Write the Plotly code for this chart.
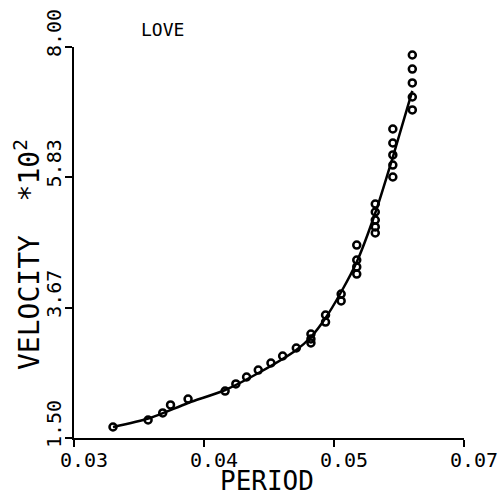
import plotly.graph_objects as go

# ---- data ----
obs_period = [0.0340, 0.0376, 0.0391, 0.0399, 0.0417, 0.0455, 0.0466, 0.0477, 0.0489,
              0.0502, 0.0514, 0.0528,
              0.0543, 0.0543, 0.0543,
              0.0558, 0.0558,
              0.0574, 0.0574,
              0.0590, 0.0590, 0.0590, 0.0590,
              0.0609, 0.0609, 0.0609, 0.0609, 0.0609,
              0.0627, 0.0627, 0.0627, 0.0627, 0.0627,
              0.0647, 0.0647, 0.0647, 0.0647, 0.0647]
obs_velocity = [1.683, 1.799, 1.916, 2.049, 2.148, 2.281, 2.398, 2.514, 2.630,
                2.747, 2.863, 2.996,
                3.229, 3.146, 3.080,
                3.545, 3.428,
                3.894, 3.778,
                4.708, 4.459, 4.343, 4.226,
                5.390, 5.257, 5.124, 5.008, 4.908,
                6.637, 6.404, 6.205, 6.038, 5.839,
                7.867, 7.634, 7.402, 7.169, 6.953]

fit_period = [0.0340, 0.0378, 0.0417, 0.0455, 0.0491, 0.0528, 0.0543, 0.0558,
              0.0574, 0.0590, 0.0609, 0.0627, 0.0647]
fit_velocity = [1.683, 1.832, 2.082, 2.298, 2.597, 2.963, 3.179, 3.495,
                3.927, 4.426, 5.240, 6.171, 7.269]

x_tick_vals = [0.03, 0.04333333, 0.05666667, 0.07]
x_tick_labels = ["0.03", "0.04", "0.05", "0.07"]
y_tick_vals = [1.5, 3.6666667, 5.8333333, 8.0]
y_tick_labels = ["1.50", "3.67", "5.83", "8.00"]

title_text = "LOVE"
x_title = "PERIOD"
y_title = "VELOCITY  *10<sup>2</sup>"

FONT = "DejaVu Sans Mono"

fig = go.Figure()
fig.add_trace(go.Scatter(
    x=fit_period, y=fit_velocity, mode="lines",
    line=dict(color="black", width=2.5, shape="spline", smoothing=0.8),
    showlegend=False, hoverinfo="skip"))
fig.add_trace(go.Scatter(
    x=obs_period, y=obs_velocity, mode="markers",
    marker=dict(symbol="circle-open", size=7, color="black",
                line=dict(color="black", width=2.5)),
    showlegend=False))

fig.update_layout(
    width=499, height=497,
    margin=dict(l=74, r=35, t=47, b=59, pad=0, autoexpand=False),
    paper_bgcolor="white", plot_bgcolor="white",
    font=dict(family=FONT, color="black"),
    xaxis=dict(range=[0.03, 0.07], tickvals=x_tick_vals, automargin=False,
               ticktext=x_tick_labels, ticklabelshift=10, ticklabelstandoff=-4,
               ticklabeloverflow="allow",
               ticks="outside", ticklen=7, tickwidth=2, tickcolor="black",
               showline=True, linewidth=2, linecolor="black",
               showgrid=False, zeroline=False,
               tickfont=dict(family=FONT, size=20, color="black")),
    yaxis=dict(range=[1.5, 8.0], tickvals=y_tick_vals, automargin=False,
               ticktext=y_tick_labels, ticklabelshift=-11, ticklabelstandoff=-4,
               ticklabeloverflow="allow",
               tickangle=-90,
               ticks="outside", ticklen=7, tickwidth=2, tickcolor="black",
               showline=True, linewidth=2, linecolor="black",
               showgrid=False, zeroline=False,
               tickfont=dict(family=FONT, size=20, color="black")),
    annotations=[
        dict(text=title_text, xref="paper", yref="paper", x=0.228, y=1.046,
             xanchor="center", yanchor="middle", showarrow=False,
             font=dict(family=FONT, size=18, color="black")),
        dict(text=x_title, xref="paper", yref="paper", x=0.495, y=-0.1535,
             xanchor="center", yanchor="bottom", showarrow=False,
             font=dict(family=FONT, size=26, color="black")),
        dict(text=y_title, xref="paper", yref="paper", x=-0.1205, y=0.468,
             xanchor="center", yanchor="middle", showarrow=False, textangle=-90,
             font=dict(family=FONT, size=28, color="black")),
    ],
)

fig.write_html("out.html")
